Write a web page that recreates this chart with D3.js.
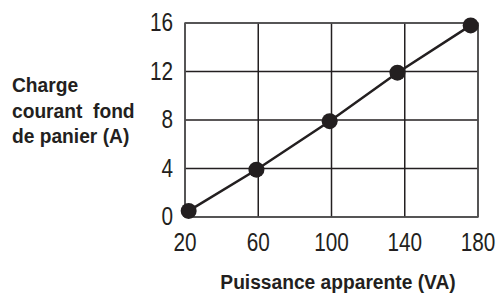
<script src="https://cdn.jsdelivr.net/npm/d3@7"></script>
<style>
  body { margin: 0; background: #fff; }
  text { font-family: "Liberation Sans", Arial, sans-serif; fill: #231f20; }
</style>
<body>
<svg id="frame" width="496" height="296"></svg>
<script>
  // data
  var power = [22, 59, 99, 136, 176];      // VA
  var current = [0.5, 3.9, 7.9, 11.9, 15.8]; // A
  var xTicks = [20, 60, 100, 140, 180];
  var yTicks = [0, 4, 8, 12, 16];
  var yTitle = ["Charge", "courant  fond", "de panier (A)"];
  var xTitle = "Puissance apparente (VA)";

  var svg = d3.select('#frame');
  var m = {left: 185, right: 478, top: 23, bottom: 217};

  var x = d3.scaleLinear().domain([20, 180]).range([m.left, m.right]);
  var y = d3.scaleLinear().domain([0, 16]).range([m.bottom, m.top]);

  // narrow look: squeeze text horizontally around its anchor point
  function squeeze(sx){
    return function(sel){
      sel.attr('transform', function(){
        var t = d3.select(this);
        return 'translate(' + t.attr('x') + ',' + t.attr('y') + ') scale(' + sx + ',1)';
      }).attr('x', 0).attr('y', 0);
    };
  }

  // grid
  svg.append('g').selectAll('line')
    .data(xTicks)
    .enter().append('line')
    .attr('x1', function(d){ return x(d); })
    .attr('x2', function(d){ return x(d); })
    .attr('y1', m.top).attr('y2', m.bottom)
    .attr('stroke', '#231f20').attr('stroke-width', 1.5);

  svg.append('g').selectAll('line')
    .data(yTicks)
    .enter().append('line')
    .attr('y1', function(d){ return y(d); })
    .attr('y2', function(d){ return y(d); })
    .attr('x1', m.left).attr('x2', m.right)
    .attr('stroke', '#231f20').attr('stroke-width', 1.5);

  // frame
  svg.append('rect')
    .attr('x', m.left).attr('y', m.top)
    .attr('width', m.right - m.left).attr('height', m.bottom - m.top)
    .attr('fill', 'none').attr('stroke', '#555').attr('stroke-width', 1.5);

  // tick labels
  svg.append('g').selectAll('text')
    .data(xTicks)
    .enter().append('text')
    .attr('x', function(d){ return x(d); })
    .attr('y', 251)
    .attr('text-anchor', 'middle')
    .attr('font-size', 25)
    .text(function(d){ return d; })
    .call(squeeze(0.83));

  svg.append('g').selectAll('text')
    .data(yTicks)
    .enter().append('text')
    .attr('x', 173)
    .attr('y', function(d){ return y(d) + 8; })
    .attr('text-anchor', 'end')
    .attr('font-size', 25)
    .text(function(d){ return d; })
    .call(squeeze(0.83));

  // series
  var pts = power.map(function(p, i){ return [p, current[i]]; });
  var line = d3.line()
    .x(function(d){ return x(d[0]); })
    .y(function(d){ return y(d[1]); });

  svg.append('path')
    .attr('d', line(pts))
    .attr('fill', 'none')
    .attr('stroke', '#231f20')
    .attr('stroke-width', 2.5);

  svg.append('g').selectAll('circle')
    .data(pts)
    .enter().append('circle')
    .attr('cx', function(d){ return x(d[0]); })
    .attr('cy', function(d){ return y(d[1]); })
    .attr('r', 8)
    .attr('fill', '#231f20');

  // titles
  svg.append('text')
    .attr('x', 338).attr('y', 289)
    .attr('text-anchor', 'middle')
    .attr('font-size', 20)
    .attr('font-weight', 'bold')
    .text(xTitle)
    .call(squeeze(0.96));

  svg.append('g').selectAll('text')
    .data(yTitle)
    .enter().append('text')
    .attr('x', 12)
    .attr('y', function(d, i){ return 92 + i * 25.5; })
    .attr('font-size', 20)
    .attr('font-weight', 'bold')
    .style('white-space', 'pre')
    .text(function(d){ return d; })
    .call(squeeze(0.96));
</script>
</body>
